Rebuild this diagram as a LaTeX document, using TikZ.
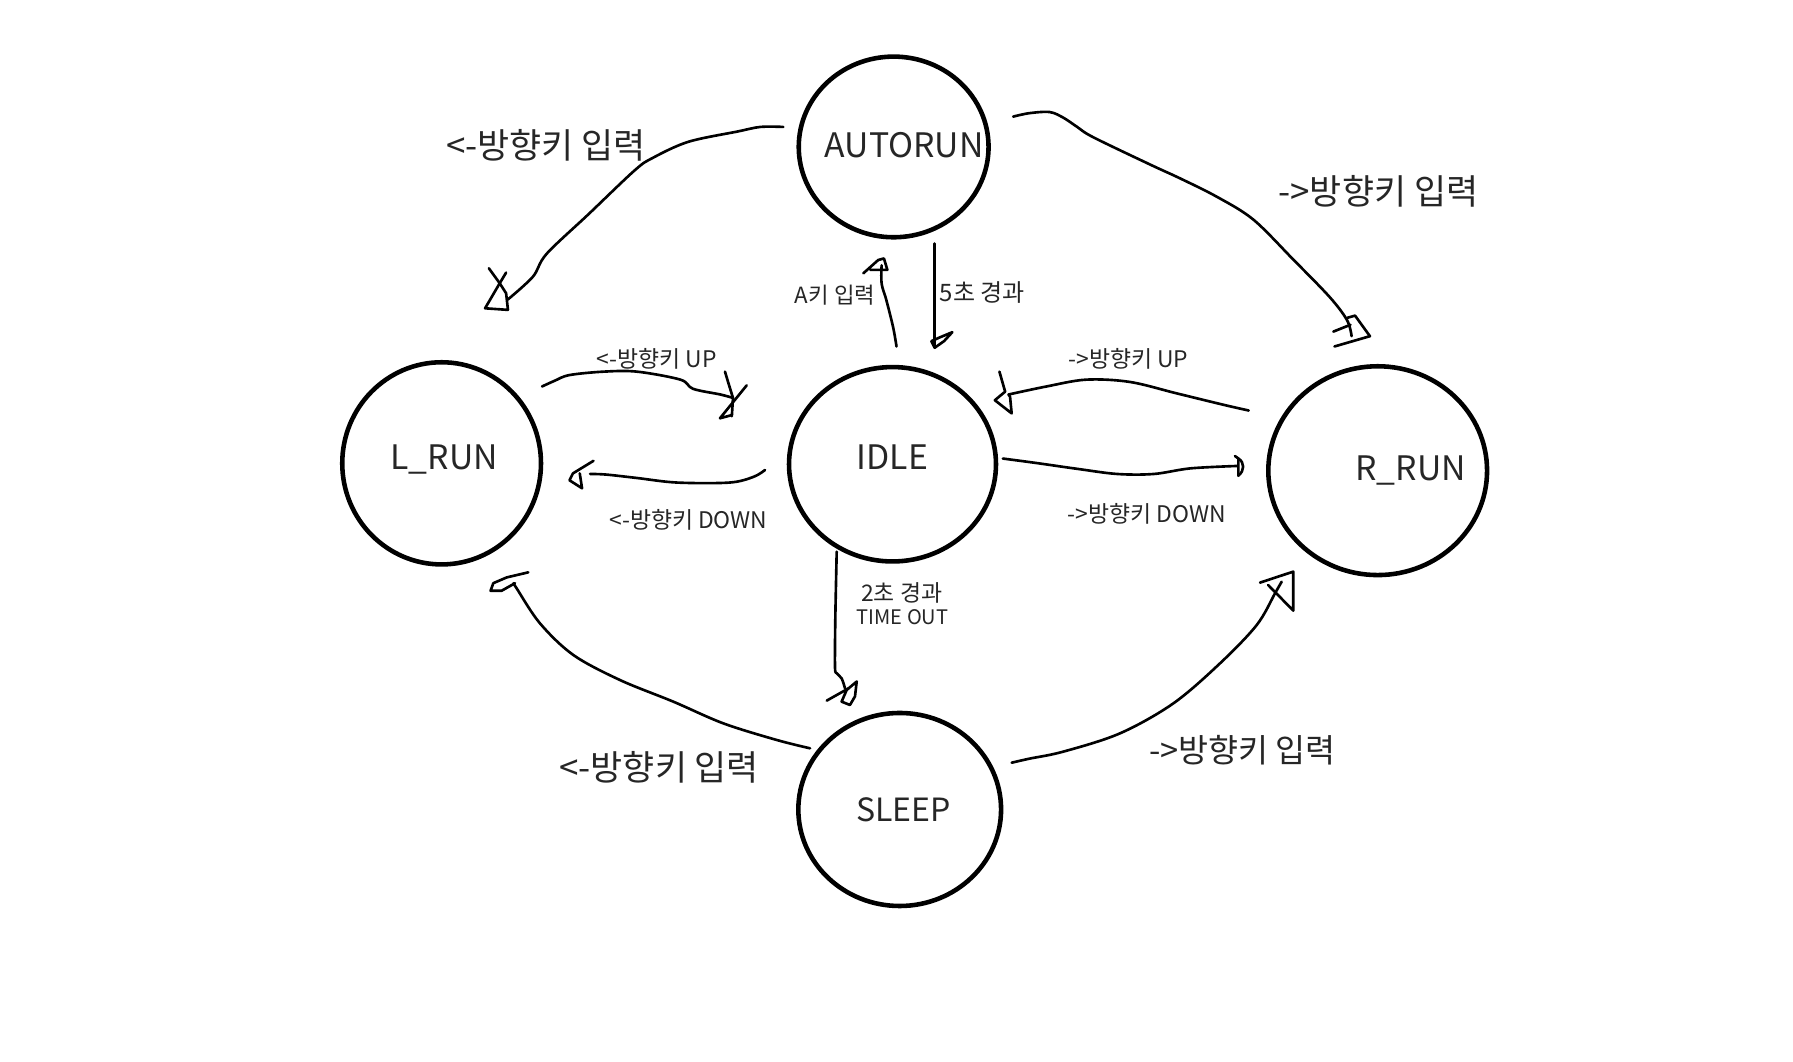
\documentclass[tikz,border=0pt]{standalone}
\usepackage{fontspec}
\setmainfont{Noto Sans CJK KR}
\usetikzlibrary{shapes.geometric}
\definecolor{ink}{RGB}{38,38,38}
\begin{document}
\begin{tikzpicture}[x=1pt,y=-1pt,
  state/.style={ellipse, draw=black, line width=4pt, inner sep=0pt},
  statename/.style={text=ink, font=\fontsize{29.5}{35}\selectfont, inner sep=0pt, anchor=base},
  biglabel/.style={text=ink, font=\fontsize{30.5}{36}\selectfont, inner sep=0pt},
  smalllabel/.style={text=ink, font=\fontsize{20}{24}\selectfont, inner sep=0pt},
  conn/.style={draw=black, line width=2.3pt, line cap=round, line join=round},
]
\useasboundingbox[fill=white] (0,0) rectangle (1568,928);

% states
\node[state, minimum width=166pt, minimum height=158pt] (autorun) at (781.5,128.5) {};
\node[state, minimum width=173.8pt, minimum height=176.8pt] (lrun) at (386.2,405.2) {};
\node[state, minimum width=181pt, minimum height=170pt] (idle) at (780.5,406) {};
\node[state, minimum width=191.3pt, minimum height=182.6pt] (rrun) at (1204.8,411.6) {};
\node[state, minimum width=177.3pt, minimum height=168.8pt] (sleep) at (786.8,707.9) {};

\node[statename] (autorunT) at (790.7,138) {AUTORUN};
\node[statename] (lrunT) at (388.5,411) {L\_RUN};
\node[statename] (idleT) at (780.5,411) {IDLE};
\node[statename] (rrunT) at (1233.5,419.8) {R\_RUN};
\node[statename, font=\fontsize{28}{34}\selectfont] (sleepT) at (790.2,718.6) {SLEEP};

% labels
\node[biglabel] (l1) at (477.5,127) {<-방향키 입력};
\node[biglabel] (l2) at (1205.4,167) {->방향키 입력};
\node[biglabel] (l10) at (576.5,671) {<-방향키 입력};
\node[biglabel, font=\fontsize{28.5}{34}\selectfont] (l11) at (1086.5,656) {->방향키 입력};
\node[smalllabel, font=\fontsize{19.5}{23}\selectfont] (l4) at (730.2,258) {A키 입력};
\node[smalllabel, font=\fontsize{21}{25}\selectfont] (l3) at (859,256) {5초 경과};
\node[smalllabel] (l5) at (574.3,313.4) {<-방향키 UP};
\node[smalllabel] (l6) at (602,454.7) {<-방향키 DOWN};
\node[smalllabel] (l7) at (986.8,313.4) {->방향키 UP};
\node[smalllabel] (l8) at (1002.8,449.6) {->방향키 DOWN};
\node[smalllabel] (l9a) at (788.5,518.1) {2초 경과};
\node[smalllabel, font=\fontsize{17.5}{21}\selectfont] (l9b) at (789.2,539.3) {TIME OUT};

% connector ends
\coordinate (c1s) at (685,111);   \coordinate (c1e) at (444,262);
\coordinate (c2s) at (886,102);   \coordinate (c2e) at (1182,294);
\coordinate (c3s) at (817,213);   \coordinate (c3e) at (817,303);
\coordinate (c4s) at (784,303);   \coordinate (c4e) at (771,232);
\coordinate (c5s) at (474,338);   \coordinate (c5e) at (641,348);
\coordinate (c6s) at (669,411);   \coordinate (c6e) at (516,414.5);
\coordinate (c7s) at (1092,359);  \coordinate (c7e) at (882,345);
\coordinate (c8s) at (877,401);   \coordinate (c8e) at (1081.5,407.5);
\coordinate (c9s) at (731.7,482.4); \coordinate (c9e) at (739,602);
\coordinate (c10s) at (708.4,654.4); \coordinate (c10e) at (449,510);
\coordinate (c11s) at (884.7,667); \coordinate (c11e) at (1120.8,508.7);

% 1 AUTORUN -> L_RUN
\draw[conn] plot[smooth, tension=0.55] coordinates {(c1s) (665,111) (645,115) (602,124) (571,138) (555,149) (515,187) (478,222) (466,242) (c1e)};
\begin{scope}[shift={(c1e)}]
\draw[conn] (-16.5,-27.4) -- (-7,-14.3) -- (-1.4,-5.5) -- (0.2,9);
\draw[conn] (-1.4,-23.6) -- (-7,-14.3) -- (-19.8,7.6) -- (0.2,9);
\end{scope}

% 2 AUTORUN -> R_RUN
\draw[conn] plot[smooth, tension=0.55] coordinates {(c2s) (900,99) (918,98) (930,103) (942,111) (956,120) (1006,144) (1032,156) (1064,172) (1096,192) (1131,227) (1163,260) (1178,280) (c2e)};
\begin{scope}[shift={(c2e)}]
\draw[conn] (-4,-16) -- (3,-18) -- (16,0) -- (-15,9);
\draw[conn] (-16,-4) -- (-1,-10);
\end{scope}

% 3 AUTORUN -> IDLE
\draw[conn] (c3s) -- (c3e);
\begin{scope}[shift={(c3e)}]
\draw[conn] (0,0) -- (-2.5,-4.7) -- (0.4,1.1) -- (8.6,-4.7) -- (15.8,-12.5) -- (5.2,-8.1) -- (-2.5,-4.7);
\end{scope}

% 4 IDLE -> AUTORUN
\draw[conn] plot[smooth, tension=0.6] coordinates {(c4s) (781,286) (775,262) (771,248) (c4e)};
\begin{scope}[shift={(c4e)}]
\draw[conn] (-16,7) -- (-3,-4.6) -- (2,-6) -- (5,4) -- (-10,4);
\end{scope}

% 5 L_RUN -> IDLE
\draw[conn] plot[smooth, tension=0.55] coordinates {(c5s) (485,333) (498,328) (528,325) (557,325) (595,332) (606,340) (630,345) (c5e)};
\begin{scope}[shift={(c5e)}]
\draw[conn] (-7,-23) -- (-4,-13) -- (0,0) -- (-1,16);
\draw[conn] (12,-11) -- (-11.4,17.8) -- (-1,15);
\end{scope}

% 6 IDLE -> L_RUN
\draw[conn] plot[smooth, tension=0.55] coordinates {(c6s) (659,417) (638,422) (592,422) (557,418) (530,415) (c6e)};
\begin{scope}[shift={(c6e)}]
\draw[conn] (3,-11.5) -- (-15,-0.5) -- (-18,5.5) -- (-7,12.5) -- (-9,-0.5);
\end{scope}

% 7 R_RUN -> IDLE
\draw[conn] plot[smooth, tension=0.55] coordinates {(c7s) (1070,354) (1029,344) (988,334) (950,332) (915,338) (c7e)};
\begin{scope}[shift={(c7e)}]
\draw[conn] (-8,-20) -- (-3,-2.5) -- (-12,5) -- (2.7,16.5) -- (1.3,2) -- (0,0);
\end{scope}

% 8 IDLE -> R_RUN
\draw[conn] plot[smooth, tension=0.55] coordinates {(c8s) (907,405) (942,410) (977,414.5) (1009,414.5) (1041,409.6) (c8e)};
\begin{scope}[shift={(c8e)}]
\draw[conn] (-1.5,-8.7) -- (1.5,-6.5) -- (1.5,8.5);
\draw[conn] (1.5,-6.5) .. controls (7,-3) and (7,4) .. (1.5,8.5);
\end{scope}

% 9 IDLE -> SLEEP
\draw[conn] plot[smooth, tension=0.5] coordinates {(c9s) (730.5,540) (730.2,583) (731.7,588.8) (736,593.2) (c9e)};
\begin{scope}[shift={(c9e)}]
\draw[conn] (-16,10.7) -- (3,0);
\draw[conn] (10.2,-6) -- (8.7,7) -- (4.3,14.5) -- (-3,11.6) -- (1.4,1.4) -- cycle;
\end{scope}

% 10 SLEEP -> L_RUN
\draw[conn] plot[smooth, tension=0.55] coordinates {(c10s) (679.2,647.1) (632.6,632.6) (588.8,613.6) (542.2,594.7) (501.4,572.8) (472.2,545.1) (451.8,514.5) (c10e)};
\begin{scope}[shift={(c10e)}]
\draw[conn] (13,-9.5) -- (-6,-5) -- (-17.6,0) -- (-20,6.6) -- (-10.3,6.6) -- (1.4,0);
\end{scope}

% 11 SLEEP -> R_RUN
\draw[conn] plot[smooth, tension=0.55] coordinates {(c11s) (900,663.5) (929.9,657.3) (979.5,641.3) (1026.1,615.1) (1066.9,580.1) (1099,546.6) (1115,518.9) (c11e)};
\begin{scope}[shift={(c11e)}]
\draw[conn] (-18.9,0.8) -- (10.2,-8.8) -- (10.2,25.3) -- (-11.8,2.9);
\end{scope}
\end{tikzpicture}
\end{document}
